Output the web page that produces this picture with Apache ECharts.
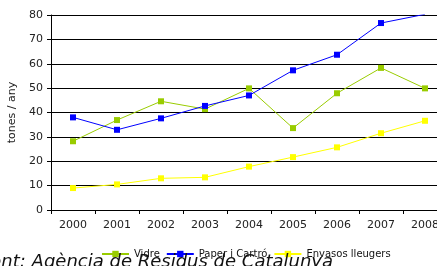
<!DOCTYPE html>
<html>
<head>
<meta charset="utf-8">
<script src="https://cdn.jsdelivr.net/npm/echarts@6/dist/echarts.min.js"></script>
<style>html,body{margin:0;padding:0;background:#fff;}#c{width:437px;height:266px;}</style>
</head>
<body>
<div id="c"></div>
<script>
const years = ['2000','2001','2002','2003','2004','2005','2006','2007','2008'];
const vidre = [28.2, 36.9, 44.6, 41.4, 49.9, 33.6, 47.9, 58.3, 49.9];
const paper = [38.0, 32.9, 37.6, 42.7, 47.0, 57.3, 63.7, 76.7, 80.3];
const envasos = [9.0, 10.5, 13.0, 13.4, 17.8, 21.7, 25.7, 31.5, 36.6];
const yTicks = [0, 10, 20, 30, 40, 50, 60, 70, 80];

const font = 'DejaVu Sans';
const chart = echarts.init(document.getElementById('c'), null, {renderer: 'canvas'});
function mk(name, data, color) {
  return {
    name, type: 'line', data,
    symbol: 'rect', symbolSize: 6,
    lineStyle: {color, width: 1},
    itemStyle: {color},
    animation: false
  };
}
chart.setOption({
  animation: false,
  grid: {left: 51, top: 15, height: 195, width: 396, containLabel: false, outerBoundsMode: 'none'},
  xAxis: {
    type: 'category', data: years, boundaryGap: true,
    axisLine: {lineStyle: {color: '#000', width: 1}},
    axisTick: {show: true, length: 4, lineStyle: {color: '#000'}},
    axisLabel: {color: '#222', fontFamily: font, fontSize: 11, margin: 10, hideOverlap: false},
    splitLine: {show: false}
  },
  yAxis: {
    type: 'value', min: yTicks[0], max: yTicks[yTicks.length-1], interval: 10,
    name: 'tones / any', nameLocation: 'middle', nameGap: 31,
    nameTextStyle: {color: '#222', fontFamily: font, fontSize: 11},
    axisLine: {show: true, lineStyle: {color: '#000', width: 1}},
    axisTick: {show: true, length: 4, lineStyle: {color: '#000'}},
    axisLabel: {color: '#222', fontFamily: font, fontSize: 11, margin: 8},
    splitLine: {show: true, lineStyle: {color: '#000', width: 1}}
  },
  legend: {
    data: ['Vidre', 'Paper i Cartró', 'Envasos lleugers'],
    left: 96, top: 244, itemWidth: 27, itemHeight: 8, itemGap: 6,
    textStyle: {color: '#111', fontFamily: font, fontSize: 10}
  },
  graphic: [{
    type: 'text',
    x: 333, y: 271,
    style: {text: 'Font: Agència de Residus de Catalunya', fill: '#111', font: 'italic 18px "DejaVu Sans"', align: 'right', verticalAlign: 'bottom'},
    z: 100
  }],
  series: [
    mk('Vidre', vidre, '#99CC00'),
    mk('Paper i Cartró', paper, '#0000FF'),
    mk('Envasos lleugers', envasos, '#FFFF00')
  ]
});
</script>
</body>
</html>
